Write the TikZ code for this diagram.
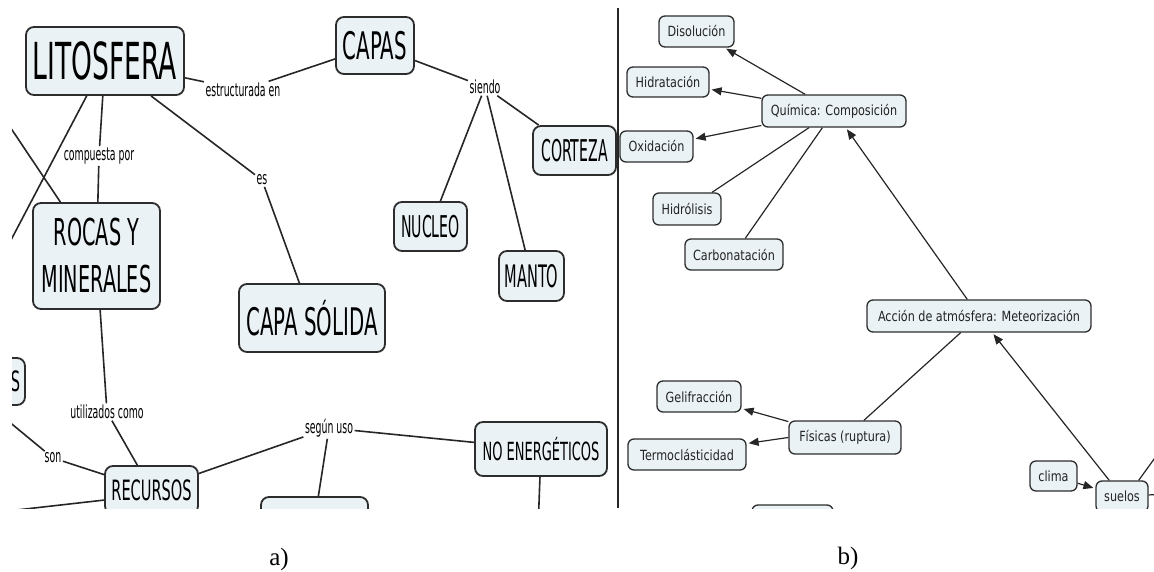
\documentclass[tikz,border=0pt]{standalone}
\usepackage{fontspec}
\setmainfont{Liberation Serif}
\newfontfamily\Lf[FakeStretch=0.52]{DejaVu Sans}
\newfontfamily\Lg[FakeStretch=0.47]{DejaVu Sans}
\newfontfamily\Rf[FakeStretch=0.8]{DejaVu Sans}
\usetikzlibrary{arrows.meta,calc}
\definecolor{boxfill}{RGB}{234,242,245}
\definecolor{boxline}{RGB}{45,45,45}
\definecolor{rtext}{RGB}{35,35,35}
\newcommand\fsz[1]{\fontsize{#1}{#1}\selectfont}
\begin{document}
\begin{tikzpicture}[x=1pt,y=-1pt,
  lbox/.style={draw=boxline, fill=boxfill, line width=1.8pt, rounded corners=8pt, inner sep=0pt, align=center},
  rbox/.style={draw=boxline, fill=boxfill, line width=1.3pt, rounded corners=6pt, inner sep=0pt, text=rtext, font=\Rf\fsz{14}},
  lab/.style={inner sep=1.5pt, font=\Lf\fsz{18}},
  lcon/.style={line width=1.6pt, draw=black!85},
  rcon/.style={line width=1.2pt, draw=black!85},
  rarr/.style={rcon, -{Triangle[length=10pt,width=8pt]}, shorten >=2pt},
]
\useasboundingbox (0,0) rectangle (1154,572);

% ---------------- panel a ----------------
\begin{scope}
\clip (12,8) rectangle (617,508);
\node[lbox, minimum width=158pt, minimum height=68pt, font=\Lf\fsz{51}] (lito) at (105,61) {LITOSFERA};
\node[lbox, minimum width=78pt, minimum height=57pt, font=\Lf\fsz{38}] (capas) at (375,45.5) {CAPAS};
\node[lbox, minimum width=83pt, minimum height=49pt, font=\Lg\fsz{30}] (corteza) at (574.5,150.5) {CORTEZA};
\node[lbox, minimum width=73pt, minimum height=49pt, font=\Lg\fsz{30}] (nucleo) at (430.5,226.5) {NUCLEO};
\node[lbox, minimum width=65pt, minimum height=50pt, font=\Lg\fsz{31}] (manto) at (531.5,276) {MANTO};
\node[lbox, minimum width=146pt, minimum height=68pt, font=\Lf\fsz{38}] (capasol) at (312,318) {CAPA SÓLIDA};
\node[lbox, minimum width=127pt, minimum height=106pt, font=\Lf\fontsize{37}{47}\selectfont] (rocas) at (96.5,256) {ROCAS Y\\MINERALES};
\node[lbox, minimum width=93pt, minimum height=48pt, font=\Lf\fsz{28}] (recursos) at (151.5,490) {RECURSOS};
\node[lbox, minimum width=132pt, minimum height=54pt, font=\Lf\fsz{25}] (noe) at (541,449) {NO ENERGÉTICOS};
\node[lbox, minimum width=107pt, minimum height=48pt] (lowbox) at (314.5,521) {};
\node[lbox, text width=55pt, align=right, inner xsep=5pt, minimum height=47pt, font=\Lf\fsz{28}] (sbox) at (-7.5,381.5) {S};

\node[lab] (lest) at (243,90) {estructurada en};
\node[lab] (lsiendo) at (485,87) {siendo};
\node[lab] (les) at (262,180) {es};
\node[lab] (lcomp) at (99,156) {compuesta por};
\node[lab] (lutil) at (107,412) {utilizados como};
\node[lab] (lson) at (53,458) {son};
\node[lab] (lsegun) at (329,428) {según uso};

\coordinate (offA) at (-10,280);
\coordinate (offB) at (-10,97);
\coordinate (offC) at (-10,406);
\coordinate (offD) at (-10,513);
\coordinate (offE) at (538,530);

\draw[lcon] (lito) -- (lest);
\draw[lcon] (lest) -- (capas);
\draw[lcon] (capas) -- (lsiendo);
\draw[lcon] (lsiendo) -- (corteza);
\draw[lcon] (lsiendo) -- (nucleo);
\draw[lcon] (lsiendo) -- (manto);
\draw[lcon] (lito) -- (les);
\draw[lcon] (les) -- (capasol);
\draw[lcon] (lito) -- (lcomp);
\draw[lcon] (lcomp) -- (rocas);
\draw[lcon] (lito) -- (offA);
\draw[lcon] (offB) -- (rocas);
\draw[lcon] (rocas) -- (lutil);
\draw[lcon] (lutil) -- (recursos);
\draw[lcon] (offC) -- (lson);
\draw[lcon] (lson) -- (recursos);
\draw[lcon] (recursos.-168) -- (offD);
\draw[lcon] (recursos) -- (lsegun);
\draw[lcon] (lsegun) -- (noe);
\draw[lcon] (lsegun) -- (lowbox);
\draw[lcon] (noe) -- (offE);
\end{scope}

% divider
\draw[line width=1.3pt, black!85] (618,8) -- (618,508);

% ---------------- panel b ----------------
\begin{scope}
\clip (619,8) rectangle (1154,508);
\node[rbox, minimum width=75pt, minimum height=31pt] (dis) at (696.5,31.5) {Disolución};
\node[rbox, minimum width=82pt, minimum height=30pt] (hid) at (668,82) {Hidratación};
\node[rbox, minimum width=144pt, minimum height=32pt] (quim) at (834,111) {Química: Composición};
\node[rbox, minimum width=73pt, minimum height=31pt] (oxi) at (656.5,146.5) {Oxidación};
\node[rbox, minimum width=68pt, minimum height=32pt] (hidr) at (687,209) {Hidrólisis};
\node[rbox, minimum width=98pt, minimum height=31pt] (carb) at (734,254.5) {Carbonatación};
\node[rbox, minimum width=224pt, minimum height=32pt] (acc) at (979,316) {Acción de atmósfera: Meteorización};
\node[rbox, minimum width=112pt, minimum height=33pt] (fis) at (845,437.5) {Físicas (ruptura)};
\node[rbox, minimum width=84pt, minimum height=31pt] (gel) at (699,396.5) {Gelifracción};
\node[rbox, minimum width=118pt, minimum height=31pt] (termo) at (687,454.5) {Termoclásticidad};
\node[rbox, minimum width=47pt, minimum height=30pt] (clima) at (1053.5,476) {clima};
\node[rbox, minimum width=52pt, minimum height=31pt] (suelos) at (1122,496.5) {suelos};
\node[rbox, minimum width=81pt, minimum height=31pt] (rlow) at (792.5,520.5) {};

\coordinate (offF) at (1165,494);
\coordinate (offG) at (1170,437);

\draw[rarr] (quim) -- (dis);
\draw[rarr] (quim) -- (hid);
\draw[rarr] (quim) -- (oxi);
\draw[rcon] (quim) -- (hidr);
\draw[rcon] (quim) -- (carb);
\draw[rarr] (acc) -- (quim);
\draw[rcon] (acc) -- (fis);
\draw[rarr] (suelos) -- (acc);
\draw[rarr] (clima) -- (suelos);
\draw[rarr] (fis) -- (gel);
\draw[rarr] (fis.west) -- ($(termo.east)+(0,-11)$);
\draw[rcon] (suelos) -- (offF);
\draw[rcon] (suelos.north east) ++(-10,0) coordinate (sne) (sne) -- (offG);
\end{scope}

\node[font=\fsz{25}] (capa) at (279,559) {a)};
\node[font=\fsz{25}] (capb) at (848,558) {b)};
\end{tikzpicture}
\end{document}
